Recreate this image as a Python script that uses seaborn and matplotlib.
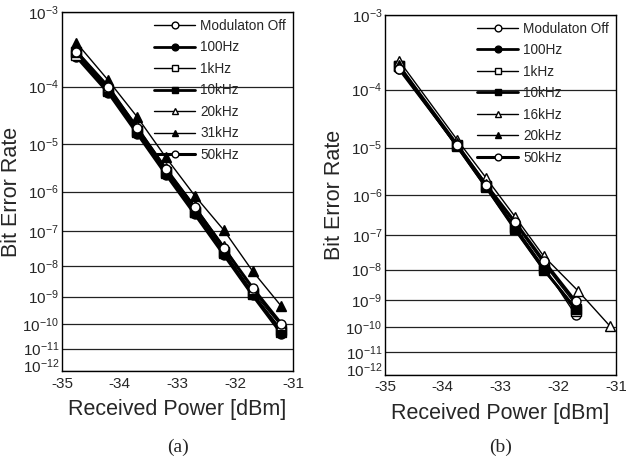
import numpy as np
import pandas as pd
import seaborn as sns
import matplotlib.pyplot as plt
import matplotlib.transforms as mtransforms

# ---- data ----
labels_a = ["Modulaton Off", "100Hz", "1kHz", "10kHz", "20kHz", "31kHz", "50kHz"]
labels_b = ["Modulaton Off", "100Hz", "1kHz", "10kHz", "16kHz", "20kHz", "50kHz"]

x_a = [-34.75, -34.2, -33.7, -33.2, -32.7, -32.2, -31.7, -31.2]
ber_a = {
    "Modulaton Off": [3.0e-4, 9.0e-5, 1.8e-5, 2.8e-6, 3.5e-7, 2.8e-8, 1.5e-9, 8e-11],
    "100Hz":         [2.7e-4, 8.0e-5, 1.6e-5, 2.4e-6, 2.8e-7, 2.2e-8, 1.1e-9, 4e-11],
    "1kHz":          [2.9e-4, 8.5e-5, 1.7e-5, 2.6e-6, 3.2e-7, 2.5e-8, 1.3e-9, 6e-11],
    "10kHz":         [3.2e-4, 9.0e-5, 1.8e-5, 2.7e-6, 3.3e-7, 2.6e-8, 1.2e-9, 5e-11],
    "20kHz":         [3.3e-4, 1.0e-4, 2.2e-5, 3.3e-6, 4.5e-7, 4.0e-8, 1.8e-9, 9e-11],
    "31kHz":         [4.2e-4, 1.25e-4, 3.2e-5, 5.5e-6, 8.0e-7, 1.1e-7, 7e-9, 4.5e-10],
    "50kHz":         [3.2e-4, 1.0e-4, 2.0e-5, 3.2e-6, 4.2e-7, 3.5e-8, 2e-9, 1e-10],
}

x_b = [-34.75, -33.75, -33.25, -32.75, -32.25, -31.7]
x_b_16k = [-34.75, -33.75, -33.25, -32.75, -32.25, -31.65, -31.1]
ber_b = {
    "Modulaton Off": [2.0e-4, 1.1e-5, 1.6e-6, 1.7e-7, 1.2e-8, 3e-10],
    "100Hz":         [2.1e-4, 1.05e-5, 1.5e-6, 1.5e-7, 1.0e-8, 5e-10],
    "1kHz":          [2.2e-4, 1.1e-5, 1.6e-6, 1.6e-7, 1.1e-8, 4e-10],
    "10kHz":         [2.2e-4, 1.05e-5, 1.5e-6, 1.4e-7, 1.0e-8, 5e-10],
    "16kHz":         [2.6e-4, 1.4e-5, 2.4e-6, 3.0e-7, 2.5e-8, 2e-9, 1.1e-10],
    "20kHz":         [2.3e-4, 1.2e-5, 1.8e-6, 2.0e-7, 1.5e-8, 7e-10],
    "50kHz":         [2.0e-4, 1.1e-5, 1.7e-6, 2.2e-7, 1.8e-8, 9e-10],
}

# marker, filled, line width
styles = [("o", False, 1.0), ("o", True, 2.0), ("s", False, 1.0), ("s", True, 2.0),
          ("^", False, 1.0), ("^", True, 1.0), ("o", False, 2.2)]

sns.set_style("white")
plt.rcParams["font.family"] = ["Liberation Sans", "DejaVu Sans"]
plt.rcParams["mathtext.default"] = "regular"


def fwd(y):
    with np.errstate(all="ignore"):
        return -np.log10(-np.log10(y))


def inv(f):
    return 10.0 ** (-(10.0 ** (-f)))


fig = plt.figure(figsize=(6.26, 4.65), dpi=100)
ax_a = fig.add_axes([0.099, 0.202, 0.369, 0.772])
ax_b = fig.add_axes([0.615, 0.194, 0.369, 0.774])

panels = [(ax_a, labels_a, ber_a, x_a), (ax_b, labels_b, ber_b, x_b)]
for ax, labels, ber, xs0 in panels:
    for lab, (m, filled, lw) in zip(labels, styles):
        xs = x_b_16k if lab == "16kHz" else xs0
        df = pd.DataFrame({"power": xs, "ber": ber[lab]})
        sns.lineplot(data=df, x="power", y="ber", ax=ax, color="black", lw=lw,
                     marker=m, markersize=6.5, markeredgecolor="black", markeredgewidth=1.0,
                     markerfacecolor="black" if filled else "white",
                     estimator=None, label=lab, legend=False)
    ax.set_yscale("function", functions=(fwd, inv))
    ax.set_ylim(1e-12, 1e-3)
    ax.set_xlim(-35, -31)
    ax.set_yticks([10.0 ** -k for k in range(3, 13)])
    ax.set_yticklabels([f"$10^{{-{k}}}$" for k in range(3, 13)])
    ax.minorticks_off()
    ax.set_xticks([-35, -34, -33, -32, -31])
    ax.set_xticklabels(["-35", "-34", "-33", "-32", "-31"])
    ax.tick_params(direction="in", length=3, labelsize=11, pad=2, color="black")
    ax.tick_params(axis="x", pad=4)
    # nudge the lowest y label up, as in the original
    low = ax.get_yticklabels()[-1]
    low.set_transform(low.get_transform() +
                      mtransforms.ScaledTranslation(0, 4 / 72, fig.dpi_scale_trans))
    ax.yaxis.grid(True, color="#222222", lw=0.9)
    ax.xaxis.grid(False)
    for s in ax.spines.values():
        s.set_color("black")
        s.set_linewidth(1.0)
    ax.set_xlabel("Received Power [dBm]", fontsize=15.5, labelpad=6)
    ax.set_ylabel("Bit Error Rate", fontsize=15.5, labelpad=0)
    ax.legend(loc="upper right", frameon=False, fontsize=9.8, borderaxespad=0.3,
              borderpad=0.2, labelspacing=0.55, handlelength=3.0, handletextpad=0.4,
              markerscale=0.75)

fig.text(0.285, 0.038, "(a)", ha="center", va="center", fontsize=14, family="Liberation Serif")
fig.text(0.80, 0.038, "(b)", ha="center", va="center", fontsize=14, family="Liberation Serif")

fig.savefig("out.png", dpi=100)
